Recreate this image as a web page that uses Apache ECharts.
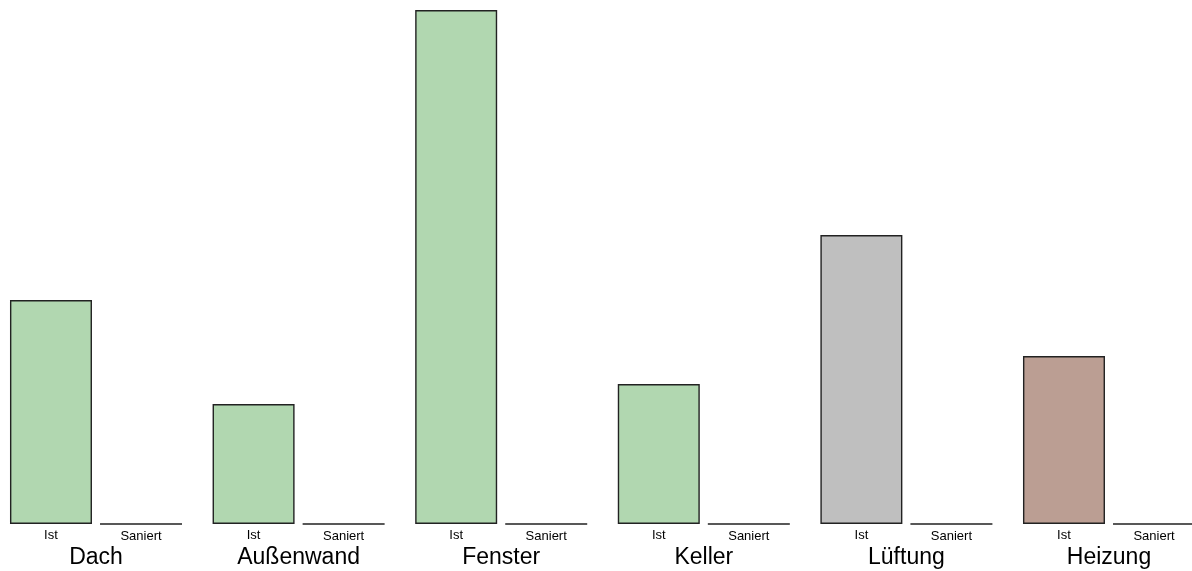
<!DOCTYPE html>
<html>
<head>
<meta charset="utf-8">
<script src="https://cdn.jsdelivr.net/npm/echarts@6/dist/echarts.min.js"></script>
<style>
  html, body { margin: 0; padding: 0; background: #fff; }
  #chart { width: 1192px; height: 571px; }
</style>
</head>
<body>
<div id="chart"></div>
<script>
// Bauteile und Werte: Ist-Zustand vs. saniert
const categories = ['Dach', 'Außenwand', 'Fenster', 'Keller', 'Lüftung', 'Heizung'];
const istValues = [224, 120, 514, 140, 289, 168];
const saniertValues = [0, 0, 0, 0, 0, 0];
const istColors = ['#b1d7b0', '#b1d7b0', '#b1d7b0', '#b1d7b0', '#bfbfbf', '#bb9e93'];
const seriesNames = ['Ist', 'Saniert'];

const chart = echarts.init(document.getElementById('chart'));

const subLabel = {
  show: true,
  position: 'bottom',
  distance: 5,
  color: '#000',
  fontFamily: 'Liberation Sans, Arial, sans-serif',
  fontSize: 13,
  formatter: p => p.seriesName
};

chart.setOption({
  animation: false,
  backgroundColor: '#fff',
  grid: {
    left: -5.3, width: 1215.6, top: 10, bottom: 47,
    containLabel: false,
    outerBoundsMode: 'none'
  },
  xAxis: {
    type: 'category',
    data: categories,
    axisLine: { show: false },
    axisTick: { show: false },
    splitLine: { show: false },
    axisLabel: {
      margin: 22,
      color: '#000',
      fontFamily: 'Liberation Sans, Arial, sans-serif',
      fontSize: 23
    }
  },
  yAxis: {
    type: 'value',
    min: 0,
    max: 514,
    show: false
  },
  series: [
    {
      name: seriesNames[0],
      type: 'bar',
      barWidth: 82,
      barGap: '9.8%',
      data: istValues.map((v, i) => ({ value: v, itemStyle: { color: istColors[i] } })),
      itemStyle: { borderColor: '#222', borderWidth: 1.4 },
      label: subLabel
    },
    {
      name: seriesNames[1],
      type: 'bar',
      barWidth: 82,
      data: saniertValues,
      itemStyle: { color: 'rgba(0,0,0,0)', borderColor: '#222', borderWidth: 1.4 },
      label: subLabel
    }
  ]
});
</script>
</body>
</html>
